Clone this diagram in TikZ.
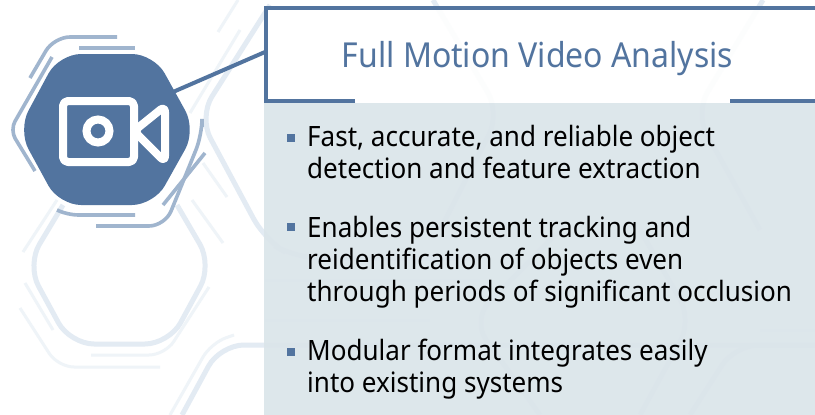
\documentclass[tikz,border=0pt]{standalone}
\usepackage{fontspec}
\setmainfont{Noto Sans}[FakeStretch=0.93]
\definecolor{mainblue}{HTML}{52749F}
\definecolor{midblue}{HTML}{A0B5CE}
\definecolor{faintA}{HTML}{E3EBF3}
\definecolor{faintB}{HTML}{EFF4F8}
\definecolor{panel}{HTML}{DBE5EA}
\tikzset{
  faint/.style={draw=faintA,line width=5pt,rounded corners=24pt},
  fainter/.style={draw=faintB,line width=3pt,rounded corners=16pt},
  midline/.style={draw=midblue,line width=3.6pt,rounded corners=16pt},
  iconline/.style={draw=white,line width=8pt,rounded corners=5pt,line join=round},
  bullettext/.style={anchor=base west,inner sep=0pt,font=\fontsize{28}{32}\selectfont,text=black},
  bulletmark/.style={fill=mainblue,minimum size=8pt,inner sep=0pt,draw=none,anchor=north west},
  framebar/.style={draw=mainblue,line width=4pt}
}
\begin{document}
\begin{tikzpicture}[x=1pt,y=-1pt]
\useasboundingbox (0,0) rectangle (815,415);
\fill[white] (0,0) rectangle (815,415);
% faint background pattern
\draw[faint] (63,205) -- (27,265) -- (70,344) -- (169,344) -- (212,265) -- (177,205);
\draw[fainter] (25,283) -- (53,330);
\draw[fainter] (20,308) -- (58,367) -- (160,367);
\draw[fainter] (91,355) -- (165,355) -- (209,287);
\draw[fainter] (57,200) -- (23,252);
\draw[faint] (182,415) -- (220,345) -- (815,345);
\draw[fainter] (170,415) -- (211,343) -- (234,335);
\draw[faint] (270,5) -- (199,117) -- (265,240) -- (295,258) -- (480,258);
\draw[fainter] (218,32) -- (238,0);
\draw[fainter] (190,113) -- (240,30);
\draw[fainter] (203,163) -- (227,197);
\draw[fainter] (192,200) -- (223,243);
\draw[fainter] (265,280) -- (480,280);
\draw[faint] (433,0) -- (500,113) -- (440,230);
\draw[faint] (763,0) -- (695,113) -- (760,230);
\draw[faint] (560,230) -- (472,320) -- (540,415);
\draw[faint] (640,230) -- (692,320) -- (640,415);
\draw[faint] (815,345) -- (735,345) -- (690,415);
\draw[fainter] (265,320) -- (430,320);
\draw[fainter] (760,330) -- (815,330);
% panel and title box
\fill[panel,fill opacity=.92] (264,103) rectangle (815,415);
\fill[white,fill opacity=.9] (264,6) rectangle (815,103);
% icon group
\draw[mainblue,line width=4pt] (173,92) coordinate (linkA) -- (265,52) coordinate (linkB);
\fill[mainblue,rounded corners=22pt] (18,130) -- (59,54) -- (154,54) -- (196,130) -- (154,205) -- (59,205) -- cycle;
\draw[iconline] (63,101) rectangle (134,162);
\draw[white,line width=8pt] (98,131) circle (11.5pt);
\draw[iconline,rounded corners=6pt] (134,131) -- (165,106) -- (165,162) -- cycle;
% accents
\draw[midline] (117,37) -- (54,37) -- (30,78);
\draw[midline] (79,48) -- (135,48);
\draw[midline,rounded corners=10pt] (52,57) -- (10,130) -- (35,171);
\draw[midline] (202,127) -- (202,135) -- (165,226) -- (96,226);
\draw[midline] (205,153) -- (163,205);
\draw[midline,rounded corners=10pt] (57,210) -- (68,215) -- (135,215);
% title frame
\draw[framebar] (355,101) -- (266,101) -- (266,8) -- (815,8);
\draw[framebar] (730,101) -- (815,101);
\node[anchor=base,inner sep=0pt,font=\fontsize{34.4}{40}\selectfont,text=mainblue] (title) at (537.5,67) {Full Motion Video Analysis};
% bullets
\node[bulletmark] (b1) at (287,134) {};
\node[bulletmark] (b2) at (287,223) {};
\node[bulletmark] (b3) at (287,348) {};
\node[bullettext] (t1a) at (307,146) {Fast, accurate, and reliable object};
\node[bullettext] (t1b) at (307,178) {detection and feature extraction};
\node[bullettext] (t2a) at (307,237) {Enables persistent tracking and};
\node[bullettext] (t2b) at (307,269) {reidentification of objects even};
\node[bullettext] (t2c) at (307,301) {through periods of significant occlusion};
\node[bullettext] (t3a) at (307,360) {Modular format integrates easily};
\node[bullettext] (t3b) at (307,392) {into existing systems};
\end{tikzpicture}
\end{document}
